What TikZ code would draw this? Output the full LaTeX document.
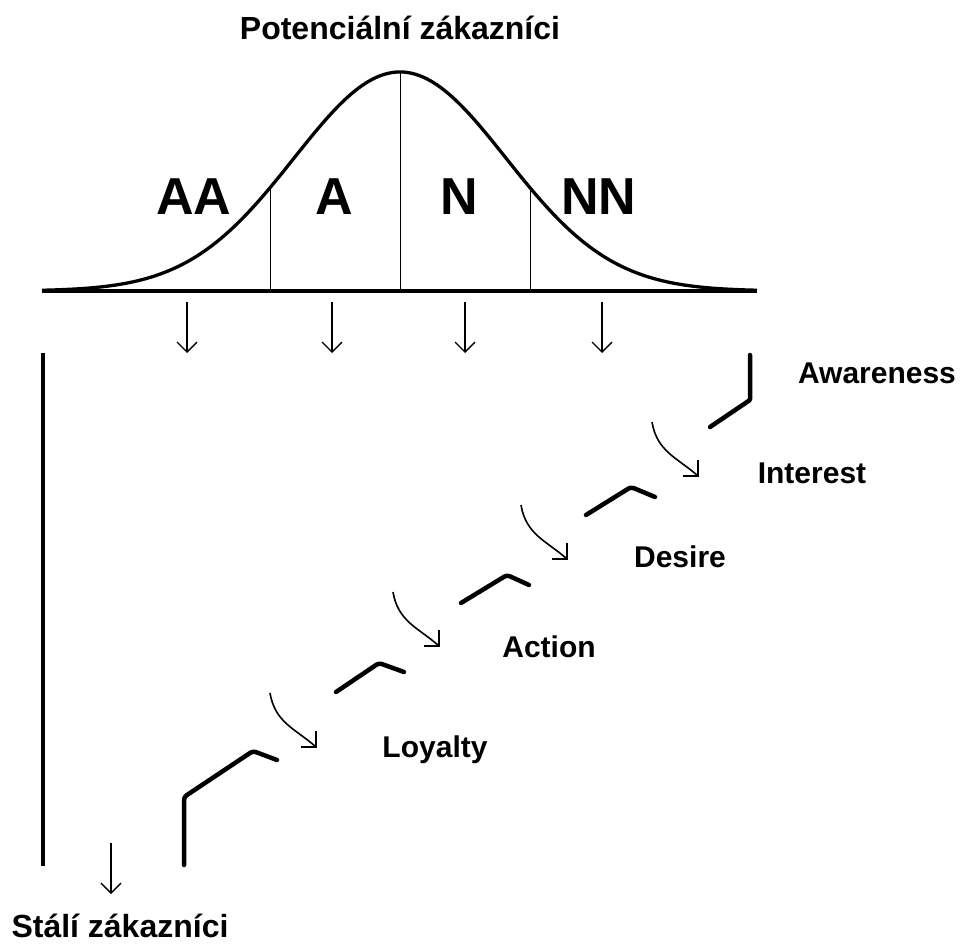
\documentclass[tikz,border=0pt]{standalone}
\usepackage{fontspec}
\setmainfont{Liberation Sans}
\usetikzlibrary{arrows.meta}
\begin{document}
\begin{tikzpicture}[x=1pt,y=-1pt,
  lbl/.style={font=\fontsize{30}{36}\selectfont\bfseries, inner sep=0pt, anchor=base},
  lblbig/.style={font=\fontsize{32}{38}\selectfont\bfseries, inner sep=0pt, anchor=base},
  biglbl/.style={font=\fontsize{52}{60}\selectfont\bfseries, inner sep=0pt, anchor=base},
  downarr/.style={line width=1.3pt, -{Straight Barb[length=10pt,width=20pt,line width=1.3pt]}},
  stair/.style={line width=4.5pt, line cap=round, line join=round, rounded corners=3pt},
  curv/.style={line width=1.6pt},
  divline/.style={line width=1pt},
]
\useasboundingbox (0,0) rectangle (962,944);

% labels
\node[lblbig] (title) at (400,40) {Potenciální zákazníci};
\node[biglbl] (AA) at (194,215) {AA};
\node[biglbl] (A) at (334,215) {A};
\node[biglbl] (N) at (459,215) {N};
\node[biglbl] (NN) at (599,215) {NN};
\node[lbl] (aw) at (877,383) {Awareness};
\node[lbl] (in) at (812,483) {Interest};
\node[lbl] (de) at (680,567) {Desire};
\node[lbl] (ac) at (549,657) {Action};
\node[lbl] (lo) at (435,757) {Loyalty};
\node[lblbig] (st) at (120,937) {Stálí zákazníci};

% baseline and bell curve
\coordinate (bl) at (42,291);
\coordinate (br) at (757,291);
\draw[line width=4.5pt] (bl) -- (br);
\draw[line width=3.3pt, line join=round] plot[domain=42:757, samples=240, smooth] (\x, {291-219*exp(-(((\x-400)/100)^2)/2.2472)});
\coordinate (v1t) at (270,188); \coordinate (v1b) at (270,291);
\coordinate (v2t) at (400,72);  \coordinate (v2b) at (400,291);
\coordinate (v3t) at (530,188); \coordinate (v3b) at (530,291);
\draw[divline] (v1t) -- (v1b);
\draw[divline] (v2t) -- (v2b);
\draw[divline] (v3t) -- (v3b);

% down arrows
\foreach \i/\xx in {1/187,2/332,3/465,4/602}{
  \coordinate (d\i t) at (\xx,302);
  \coordinate (d\i b) at (\xx,353);
  \draw[downarr] (d\i t) -- (d\i b);
}

% left bar
\coordinate (lbt) at (43,353);
\coordinate (lbb) at (43,866);
\draw[line width=4.5pt] (lbt) -- (lbb);

% final arrow
\coordinate (ft) at (111,843);
\coordinate (fb) at (111,894);
\draw[downarr] (ft) -- (fb);

% stairs
\draw[stair, rounded corners=1pt] (750,355) -- (750,400) -- (710,427);
\draw[stair] (586,515) -- (631,487) -- (655,497);
\draw[stair] (461,603) -- (507,575) -- (529,585);
\draw[stair] (336,692) -- (379,663) -- (404,672);
\draw[stair] (184,865) -- (184,797) -- (220,773) -- (253,751) -- (277,760);

% curved arrows
\foreach \i/\sx/\sy in {1/652/422, 2/521/505, 3/393/592, 4/270/693}{
  \coordinate (cs\i) at (\sx,\sy);
  \coordinate (ct\i) at (\sx+46,\sy+54);
  \draw[curv] (cs\i) .. controls +(5,30) and +(-20,-18) .. (ct\i);
  \draw[curv] ([xshift=-15pt]ct\i) -- (ct\i) -- ([yshift=16pt]ct\i);
}
\end{tikzpicture}
\end{document}
